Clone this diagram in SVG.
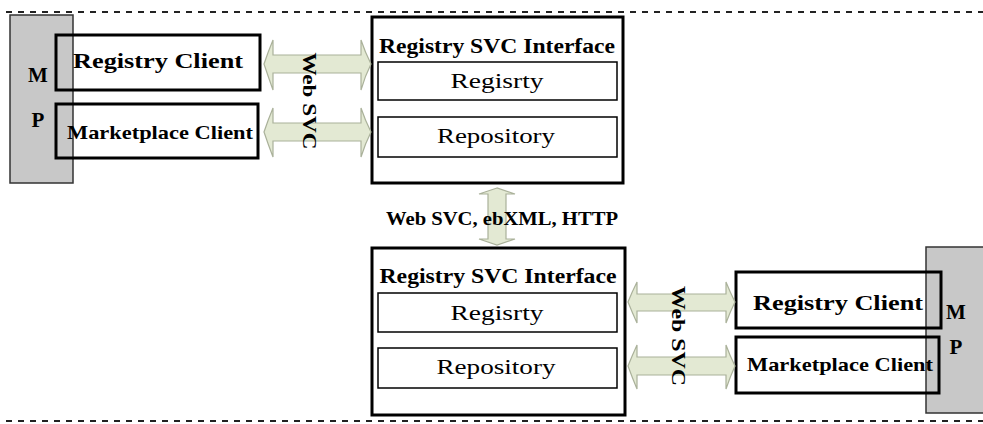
<svg xmlns="http://www.w3.org/2000/svg" width="983" height="424" viewBox="0 0 983 424">
<style>
.dash{stroke:#222;stroke-width:2;stroke-dasharray:6 6;fill:none}
.mp{fill:#c8c8c8;stroke:#333;stroke-width:1.5}
.cl{fill:none;stroke:#000;stroke-width:3}
.main{fill:#fff;stroke:#000;stroke-width:3}
.inner{fill:#fff;stroke:#000;stroke-width:1.5}
.arr{fill:#e3e9d3;stroke:#aab19a;stroke-width:1.2}
.b{font-family:"Liberation Serif","DejaVu Serif",serif;font-weight:bold;fill:#000}
.n{font-family:"Liberation Serif","DejaVu Serif",serif;fill:#000}
</style>
<line class="dash" x1="6" y1="12" x2="983" y2="12"/>
<line class="dash" x1="6" y1="421" x2="983" y2="421"/>

<g id="mp-left">
<rect class="mp" x="10" y="15" width="63" height="168"/>
<text class="b" x="38" y="82" font-size="21" text-anchor="middle">M</text>
<text class="b" x="38" y="127" font-size="21" text-anchor="middle">P</text>
</g>
<g id="registry-client-left">
<rect class="cl" x="56" y="35" width="204" height="55"/>
<text class="b" x="158" y="68" font-size="20" text-anchor="middle" textLength="170" lengthAdjust="spacingAndGlyphs">Registry Client</text>
</g>
<g id="marketplace-client-left">
<rect class="cl" x="56" y="104" width="202" height="54"/>
<text class="b" x="160" y="139" font-size="19" text-anchor="middle" textLength="186" lengthAdjust="spacingAndGlyphs">Marketplace Client</text>
</g>

<g id="registry-top">
<rect class="main" x="372" y="17" width="251" height="166"/>
<text class="b" x="497" y="53" font-size="20" text-anchor="middle" textLength="236" lengthAdjust="spacingAndGlyphs">Registry SVC Interface</text>
<rect class="inner" x="378" y="62" width="239" height="38"/>
<text class="n" x="497" y="88" font-size="20" text-anchor="middle" textLength="93" lengthAdjust="spacingAndGlyphs">Regisrty</text>
<rect class="inner" x="378" y="117" width="239" height="40"/>
<text class="n" x="496" y="143" font-size="20" text-anchor="middle" textLength="118" lengthAdjust="spacingAndGlyphs">Repository</text>
</g>

<g id="registry-bottom">
<rect class="main" x="372" y="248" width="253" height="167"/>
<text class="b" x="498" y="283" font-size="20" text-anchor="middle" textLength="237" lengthAdjust="spacingAndGlyphs">Registry SVC Interface</text>
<rect class="inner" x="378" y="293" width="239" height="39"/>
<text class="n" x="497" y="320" font-size="20" text-anchor="middle" textLength="93" lengthAdjust="spacingAndGlyphs">Regisrty</text>
<rect class="inner" x="378" y="348" width="239" height="40"/>
<text class="n" x="496" y="374" font-size="20" text-anchor="middle" textLength="119" lengthAdjust="spacingAndGlyphs">Repository</text>
</g>

<g id="mp-right">
<rect class="mp" x="926" y="247" width="60" height="166"/>
<text class="b" x="956" y="319" font-size="21" text-anchor="middle">M</text>
<text class="b" x="956" y="354" font-size="21" text-anchor="middle">P</text>
</g>
<g id="registry-client-right">
<rect class="cl" x="736" y="272" width="205" height="56"/>
<text class="b" x="838" y="310" font-size="20" text-anchor="middle" textLength="170" lengthAdjust="spacingAndGlyphs">Registry Client</text>
</g>
<g id="marketplace-client-right">
<rect class="cl" x="736" y="337" width="203" height="56"/>
<text class="b" x="840" y="371" font-size="19" text-anchor="middle" textLength="186" lengthAdjust="spacingAndGlyphs">Marketplace Client</text>
</g>

<g id="connectors">
<path class="arr" d="M264,64 Q268,52 273,40 L273,55 L361,55 L361,40 Q365,52 371,64 Q365,76 361,90 L361,73 L273,73 L273,90 Q268,76 264,64 Z"/>
<path class="arr" d="M264,132 Q268,120 273,108 L273,123 L361,123 L361,108 Q365,120 371,132 Q365,144 361,157 L361,141 L273,141 L273,157 Q268,144 264,132 Z"/>
<path class="arr" d="M628,302 Q632,292 637,282 L637,294 L726,294 L726,282 Q730,292 735,302 Q730,312 726,323 L726,311 L637,311 L637,323 Q632,312 628,302 Z"/>
<path class="arr" d="M628,366 Q632,356 637,345 L637,357 L726,357 L726,345 Q730,356 735,366 Q730,377 726,389 L726,375 L637,375 L637,389 Q632,377 628,366 Z"/>
<path class="arr" d="M497,188 L479,194 L488,194 L488,239 L479,239 L497,245 L515,239 L506,239 L506,194 L515,194 Z"/>
<text class="b" x="502" y="225" font-size="18" text-anchor="middle" textLength="232" lengthAdjust="spacingAndGlyphs">Web SVC, ebXML, HTTP</text>
<text class="b" transform="translate(303,101) rotate(90)" font-size="18" text-anchor="middle" textLength="97" lengthAdjust="spacingAndGlyphs">Web SVC</text>
<text class="b" transform="translate(672,336) rotate(90)" font-size="18" text-anchor="middle" textLength="100" lengthAdjust="spacingAndGlyphs">Web SVC</text>
</g>
</svg>
